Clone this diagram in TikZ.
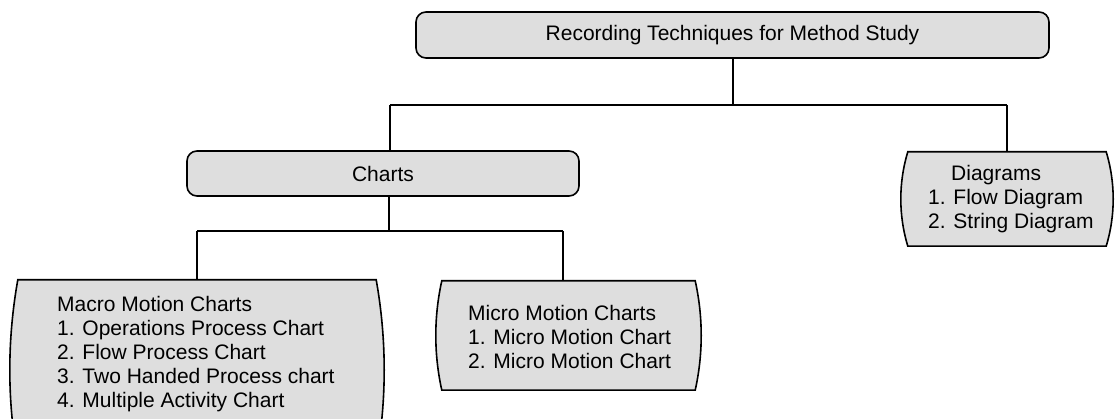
\documentclass[tikz,border=0pt]{standalone}
\usepackage{fontspec}
\setmainfont{Liberation Sans}
\usetikzlibrary{calc}
\definecolor{boxgray}{HTML}{DEDEDE}
\tikzset{
  lbl/.style={font=\fontsize{21}{24}\selectfont, text=black},
  roundbox/.style={lbl, draw=black, fill=boxgray, line width=1.6pt, rounded corners=10pt, inner sep=0pt, align=center},
  shapebox/.style={draw=none, inner sep=0pt},
  outline/.style={draw=black, fill=boxgray, line width=1.6pt},
  listtext/.style={lbl, align=left, inner sep=0pt, anchor=north west},
  conn/.style={draw=black, line width=1.6pt},
}
\newcommand\bulgeoutline[3]{%
  \path[outline] (#1.north west) -- (#1.north east)
    .. controls ($(#1.north east)+(4*#2/3,#3)$) and ($(#1.south east)+(4*#2/3,-#3)$) .. (#1.south east)
    -- (#1.south west)
    .. controls ($(#1.south west)+(-4*#2/3,-#3)$) and ($(#1.north west)+(-4*#2/3,#3)$) .. (#1.north west) -- cycle;}
\begin{document}
\begin{tikzpicture}[x=1pt,y=-1pt]
\useasboundingbox (0,0) rectangle (1120,419);
\clip (0,0) rectangle (1120,419);

% rounded boxes
\node[roundbox, minimum width=633pt, minimum height=46pt] (top) at (732.5,35) {Recording Techniques for Method Study};
\node[roundbox, minimum width=392pt, minimum height=45pt] (charts) at (383,173.5) {Charts};

% bulging boxes (shape nodes)
\node[shapebox, minimum width=358pt, minimum height=180pt] (macro) at (197,370) {};
\node[shapebox, minimum width=253pt, minimum height=109pt] (micro) at (568.5,335.5) {};
\node[shapebox, minimum width=198pt, minimum height=94pt] (diagrams) at (1007,199) {};
\bulgeoutline{macro}{8}{60}
\bulgeoutline{micro}{6}{36}
\bulgeoutline{diagrams}{7}{31}

% texts
\node[listtext] (macrotext) at (57,293) {\rule{0pt}{18pt}Macro Motion Charts\\1. Operations Process Chart\\2. Flow Process Chart\\3. Two Handed Process chart\\4. Multiple Activity Chart};
\node[listtext] (microtext) at (468,302) {\rule{0pt}{18pt}Micro Motion Charts\\1. Micro Motion Chart\\2. Micro Motion Chart};
\node[listtext] (diagtext) at (928,162) {\rule{0pt}{18pt}\hspace*{23pt}Diagrams\\1. Flow Diagram\\2. String Diagram};

% connectors
\coordinate (b1) at (733,105);
\coordinate (b1l) at (390,105);
\coordinate (b1r) at (1007,105);
\draw[conn] (top.south -| b1) -- (b1);
\draw[conn] (b1l) -- (b1r);
\draw[conn] (b1l) -- (b1l |- charts.north);
\draw[conn] (b1r) -- (diagrams.north);

\coordinate (b2) at (389,231);
\coordinate (b2l) at (197,231);
\coordinate (b2r) at (563,231);
\draw[conn] (charts.south -| b2) -- (b2);
\draw[conn] (b2l) -- (b2r);
\draw[conn] (b2l) -- (macro.north);
\draw[conn] (b2r) -- (b2r |- micro.north);
\end{tikzpicture}
\end{document}
